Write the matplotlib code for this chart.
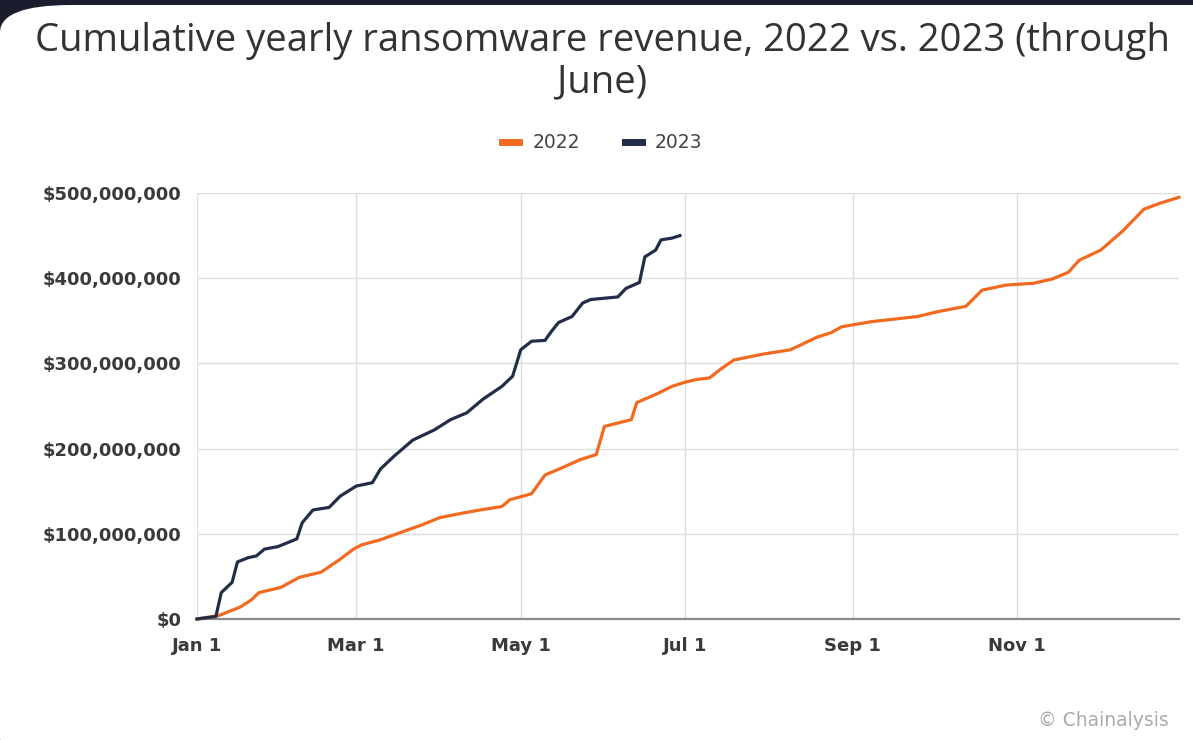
import matplotlib
matplotlib.use("Agg")
import matplotlib.pyplot as plt
from matplotlib.patches import FancyBboxPatch
from matplotlib.ticker import FuncFormatter
import pandas as pd

# ---- data (day of year offset from Jan 1, cumulative revenue in $M) ----
days_2022 = [0, 8, 16, 20, 23, 31, 38, 46, 53, 58, 61, 68, 75, 83, 90, 98, 105, 113,
             116, 124, 129, 135, 142, 148, 151, 161, 163, 171, 176, 181, 185, 190, 194,
             199, 210, 220, 230, 235, 239, 250, 267, 275, 285, 291, 300, 310, 317, 323,
             327, 335, 343, 351, 357, 364]
rev_2022 = [0, 4, 14, 22, 31, 37, 49, 55, 70, 82, 87, 93, 101, 110, 119, 124, 128, 132,
            140, 147, 169, 177, 187, 193, 226, 234, 254, 265, 273, 278, 281, 283, 293,
            304, 311, 316, 331, 336, 343, 349, 355, 361, 367, 386, 392, 394, 399, 407,
            421, 433, 455, 481, 488, 495]

days_2023 = [0, 7, 9, 13, 15, 19, 22, 25, 30, 37, 39, 43, 49, 53, 59, 65, 68, 73, 80,
             88, 94, 100, 106, 113, 117, 120, 124, 129, 131, 134, 139, 143, 146, 156,
             159, 164, 166, 170, 172, 176, 179]
rev_2023 = [0, 3, 31, 43, 67, 72, 74, 82, 85, 94, 113, 128, 131, 144, 156, 160, 176,
            191, 210, 222, 234, 242, 258, 273, 285, 316, 326, 327, 336, 348, 355, 371,
            375, 378, 388, 395, 425, 433, 445, 447, 450]

series_labels = ["2022", "2023"]
tick_dates = ["2022-01-01", "2022-03-01", "2022-05-01", "2022-07-01", "2022-09-01", "2022-11-01"]
tick_labels = ["Jan 1", "Mar 1", "May 1", "Jul 1", "Sep 1", "Nov 1"]
y_ticks = [0, 100, 200, 300, 400, 500]

title = "Cumulative yearly ransomware revenue, 2022 vs. 2023 (through\nJune)"
source = "© Chainalysis"

ORANGE = "#F26A1F"
NAVY = "#222D47"
TEXT = "#333333"
BG_DARK = "#1B1C2E"

base = pd.Timestamp("2022-01-01")
x22 = base + pd.to_timedelta(days_2022, unit="D")
x23 = base + pd.to_timedelta(days_2023, unit="D")

plt.rcParams["font.family"] = ["DejaVu Sans"]

W, H = 1193, 740
fig = plt.figure(figsize=(W / 100, H / 100), dpi=100)
fig.patch.set_facecolor(BG_DARK)

card = FancyBboxPatch((0, -25 / H), 1.1, (H - 5 + 25) / H,
                      boxstyle="round,pad=0,rounding_size=0.06",
                      transform=fig.transFigure, facecolor="white",
                      edgecolor="none", zorder=-10, mutation_aspect=H / W)
fig.patches.append(card)

ax = fig.add_axes([197 / W, 121 / H, 982 / W, 426 / H])
ax.set_facecolor("none")
ax.set_zorder(1)

ax.plot(x22, rev_2022, color=ORANGE, lw=2.3, label=series_labels[0], clip_on=False,
        solid_joinstyle="round", zorder=3)
ax.plot(x23, rev_2023, color=NAVY, lw=2.3, label=series_labels[1], clip_on=False,
        solid_joinstyle="round", zorder=4)

ax.set_xlim(base, base + pd.Timedelta(days=364))
ax.set_ylim(0, 500)
ax.set_yticks(y_ticks)
ax.yaxis.set_major_formatter(FuncFormatter(lambda v, p: "$0" if v == 0 else f"${int(v * 1e6):,}"))
ax.set_xticks(pd.to_datetime(tick_dates))
ax.set_xticklabels(tick_labels)

ax.grid(True, color="#DDDDDD", lw=1.0)
ax.set_axisbelow(True)
for s in ["top", "right", "left"]:
    ax.spines[s].set_visible(False)
ax.spines["bottom"].set_color("#8A8A8A")
ax.spines["bottom"].set_linewidth(1.6)
ax.tick_params(axis="both", length=0, labelsize=13, labelcolor="#3A3A3A")
ax.tick_params(axis="y", pad=11)
ax.tick_params(axis="x", pad=13)
for lab in ax.get_xticklabels() + ax.get_yticklabels():
    lab.set_fontweight("bold")

fig.text(0.505, 1 - 22 / H, title, ha="center", va="top", fontsize=27.5,
         color=TEXT, linespacing=1.1, family=["Open Sans", "DejaVu Sans"])

leg = fig.legend(loc="center", bbox_to_anchor=(0.505, 1 - 143 / H), ncol=2, frameon=False,
                 fontsize=13.5, handlelength=0.9, handletextpad=0.7, columnspacing=2.4)
for line in leg.get_lines():
    line.set_linewidth(5)
for t in leg.get_texts():
    t.set_color("#444444")

fig.text(1 - 24 / W, 20 / H, source, ha="right", va="center", fontsize=13.5,
         color="#AAAAAA")

fig.savefig("out.png", dpi=100, facecolor=fig.get_facecolor())
